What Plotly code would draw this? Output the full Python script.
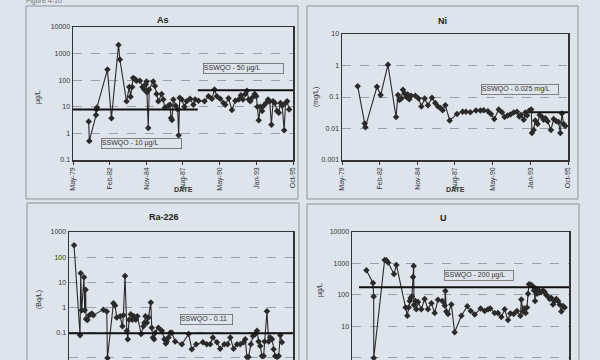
import plotly.graph_objects as go

W, H = 600, 360
BG = "#dde4eb"
INK = "#2a2a2a"

tick_years = [1979.38, 1982.11, 1984.85, 1987.59, 1990.33, 1993.07, 1995.81]
tick_labels = ["May-79", "Feb-82", "Nov-84", "Aug-87", "May-90", "Jan-93", "Oct-95"]

# ---- As (ug/L)
as_year = [1980.55, 1980.6, 1981.1, 1981.13, 1981.17, 1981.95, 1982.25, 1982.78, 1982.88, 1983.38,
           1983.58, 1983.68, 1983.8, 1983.87, 1984.0, 1984.12, 1984.37, 1984.57, 1984.7, 1984.82,
           1984.87, 1984.9, 1985.0, 1985.07, 1985.37, 1985.5, 1985.62, 1985.75, 1986.0, 1986.12,
           1986.25, 1986.5, 1986.62, 1986.7, 1986.77, 1986.87, 1987.05, 1987.2, 1987.27, 1987.35,
           1987.5, 1987.7, 1987.87, 1988.12, 1988.37, 1988.5, 1988.75, 1989.2, 1989.5, 1989.75,
           1989.95, 1990.12, 1990.37, 1990.62, 1990.75, 1991.0, 1991.25, 1991.5, 1991.75, 1991.92,
           1992.07, 1992.25, 1992.37, 1992.5, 1992.62, 1992.8, 1992.95, 1993.07, 1993.15, 1993.25,
           1993.37, 1993.5, 1993.62, 1993.8, 1993.95, 1994.07, 1994.2, 1994.32, 1994.45, 1994.62,
           1994.75, 1994.87, 1995.0, 1995.15, 1995.25, 1995.37, 1995.52]
as_val = [2.8, 0.52, 4.9, 8, 9.5, 250, 3.7, 2100, 600, 16,
          56, 24, 56, 120, 110, 95, 95, 55, 45, 70,
          90, 35, 1.6, 45, 90, 60, 30, 16, 30, 19,
          9.5, 11, 12, 3.8, 3.2, 19, 11, 8, 0.85, 22,
          19, 10, 16, 20, 12, 19, 17, 16, 25, 20,
          45, 25, 20, 14, 12, 21, 7.5, 17, 19, 27,
          19, 30, 40, 19, 16, 23, 30, 25, 10, 3.1,
          10, 7, 11, 14, 19, 16, 2.1, 16, 14, 7,
          6, 14, 11, 1.3, 14, 16, 8]
as_lim1_year = [1979.38, 1988.7]
as_lim1_val = [8, 8]
as_lim2_year = [1988.7, 1995.81]
as_lim2_val = [42, 42]

# ---- Ni (mg/L)
ni_year = [1980.52, 1981.03, 1981.08, 1981.92, 1982.19, 1982.72, 1983.31, 1983.45, 1983.55, 1983.69,
           1983.81, 1983.94, 1984.06, 1984.15, 1984.27, 1984.4, 1984.71, 1984.95, 1985.15, 1985.39,
           1985.63, 1985.92, 1986.16, 1986.36, 1986.53, 1986.7, 1986.89, 1987.21, 1987.74, 1988.15,
           1988.39, 1988.71, 1989.12, 1989.44, 1989.68, 1989.99, 1990.21, 1990.45, 1990.77, 1991.01,
           1991.2, 1991.42, 1991.62, 1991.86, 1992.1, 1992.27, 1992.39, 1992.59, 1992.71, 1992.83,
           1993.0, 1993.14, 1993.19, 1993.31, 1993.43, 1993.6, 1993.75, 1993.92, 1994.04, 1994.16,
           1994.33, 1994.57, 1994.77, 1994.96, 1995.13, 1995.25, 1995.37, 1995.49, 1995.61]
ni_val = [0.22, 0.0144, 0.011, 0.21, 0.115, 1.05, 0.023, 0.115, 0.08, 0.09,
          0.17, 0.13, 0.1, 0.12, 0.085, 0.11, 0.11, 0.09, 0.05, 0.09,
          0.055, 0.095, 0.065, 0.05, 0.045, 0.038, 0.055, 0.018, 0.029, 0.034,
          0.034, 0.033, 0.037, 0.037, 0.038, 0.035, 0.029, 0.02, 0.04, 0.033,
          0.023, 0.026, 0.028, 0.032, 0.034, 0.024, 0.027, 0.019, 0.032, 0.026,
          0.037, 0.04, 0.0072, 0.009, 0.018, 0.014, 0.027, 0.023, 0.019, 0.021,
          0.017, 0.009, 0.02, 0.017, 0.016, 0.0072, 0.03, 0.014, 0.012]
ni_lim_year = [1993.07, 1995.81]
ni_lim_val = [0.033, 0.033]

# ---- Ra-226 (Bq/L)
ra_year = [1979.75, 1980.19, 1980.24, 1980.31, 1980.48, 1980.53, 1980.6, 1980.63, 1980.73, 1980.87,
           1981.05, 1981.17, 1981.9, 1982.15, 1982.2, 1982.64, 1982.76, 1982.88, 1983.13, 1983.3,
           1983.37, 1983.49, 1983.62, 1983.69, 1983.79, 1983.91, 1984.03, 1984.15, 1984.28, 1984.4,
           1984.67, 1984.84, 1984.91, 1984.99, 1985.09, 1985.21, 1985.38, 1985.45, 1985.53, 1985.62,
           1985.7, 1985.94, 1986.19, 1986.38, 1986.48, 1986.55, 1986.68, 1986.8, 1986.92, 1987.17,
           1987.66, 1988.15, 1988.39, 1988.71, 1989.2, 1989.49, 1989.74, 1989.93, 1990.23, 1990.47,
           1990.77, 1991.01, 1991.21, 1991.45, 1991.7, 1991.94, 1992.19, 1992.31, 1992.43, 1992.55,
           1992.72, 1992.87, 1993.04, 1993.17, 1993.29, 1993.41, 1993.53, 1993.66, 1993.73, 1993.9,
           1994.02, 1994.14, 1994.27, 1994.39, 1994.51, 1994.64, 1994.76, 1994.88, 1995.0]
ra_val = [300, 0.08, 23, 0.78, 16, 0.78, 5.1, 0.35, 0.32, 0.5,
          0.58, 0.5, 0.83, 0.7, 0.01, 1.5, 1.2, 0.4, 0.45, 0.18,
          0.5, 18, 0.12, 0.055, 0.33, 0.55, 0.33, 0.45, 0.33, 0.45,
          0.09, 0.18, 0.25, 0.45, 0.25, 0.4, 1.6, 0.16, 0.065, 0.055,
          0.1, 0.16, 0.12, 0.055, 0.038, 0.045, 0.065, 0.1, 0.1, 0.045,
          0.035, 0.09, 0.022, 0.035, 0.042, 0.035, 0.035, 0.065, 0.042, 0.023,
          0.035, 0.035, 0.065, 0.023, 0.035, 0.035, 0.042, 0.055, 0.011, 0.011,
          0.035, 0.075, 0.09, 0.12, 0.045, 0.03, 0.012, 0.012, 0.045, 0.72,
          0.045, 0.065, 0.055, 0.022, 0.012, 0.011, 0.012, 0.08, 0.042]
ra_lim_year = [1979.38, 1995.81]
ra_lim_val = [0.095, 0.095]

# ---- U (ug/L)
u_year = [1980.47, 1980.97, 1981.02, 1981.03, 1981.85, 1981.98, 1982.11, 1982.56, 1982.74, 1983.44,
          1983.57, 1983.67, 1983.75, 1983.82, 1983.92, 1984.0, 1984.05, 1984.07, 1984.18, 1984.25,
          1984.38, 1984.63, 1984.88, 1985.13, 1985.39, 1985.64, 1985.89, 1986.22, 1986.4, 1986.45,
          1986.52, 1986.65, 1986.9, 1987.15, 1987.66, 1988.11, 1988.37, 1988.67, 1989.12, 1989.43,
          1989.68, 1989.85, 1990.18, 1990.43, 1990.69, 1990.94, 1991.19, 1991.37, 1991.62, 1991.87,
          1992.13, 1992.2, 1992.33, 1992.4, 1992.53, 1992.63, 1992.71, 1992.78, 1992.91, 1993.03,
          1993.16, 1993.24, 1993.29, 1993.39, 1993.49, 1993.59, 1993.72, 1993.84, 1993.97, 1994.09,
          1994.22, 1994.35, 1994.47, 1994.6, 1994.73, 1994.85, 1994.98, 1995.1, 1995.23, 1995.36,
          1995.48]
u_val = [610, 240, 90, 1, 1300, 1270, 1080, 460, 900, 40,
         22, 40, 65, 80, 90, 370, 840, 48, 65, 35,
         60, 35, 75, 35, 55, 27, 70, 65, 46, 135,
         30, 25, 50, 6.6, 22, 44, 31, 24, 37, 31,
         35, 37, 27, 27, 20, 35, 16, 26, 25, 31,
         22, 72, 30, 37, 27, 40, 110, 220, 210, 195,
         140, 65, 160, 110, 145, 120, 125, 140, 125, 100,
         90, 75, 80, 50, 65, 75, 65, 50, 30, 45,
         40]
u_lim_year = [1979.91, 1995.81]
u_lim_val = [175, 175]

# ---- panel layout (pixels)
def px(x):
    return x / W

def py(y):
    return 1 - y / H

panels = [
    dict(name="As", title="As", ylab="µg/L", xd=(73, 293), yd=(27, 160), rng=(-1, 4),
         ticks=[0.1, 1, 10, 100, 1000, 10000], tt=["0.1", "1", "10", "100", "1000", "10000"],
         box=(26, 298, 6, 199), tpos=(163, 20), ylpos=(38, 97), date=True,
         series=(as_year, as_val), lims=[(as_lim1_year, as_lim1_val), (as_lim2_year, as_lim2_val)],
         labels=[("SSWQO - 50 µg/L", 243, 68.5, 79), ("SSWQO - 10 µg/L", 141, 143.5, 79)]),
    dict(name="Ni", title="Ni", ylab="(mg/L)", xd=(342, 568), yd=(34, 160), rng=(-3, 1),
         ticks=[0.001, 0.01, 0.1, 1, 10], tt=["0.001", "0.01", "0.1", "1", "10"],
         box=(307, 578, 6, 199), tpos=(442, 21), ylpos=(316, 97), date=True,
         series=(ni_year, ni_val), lims=[(ni_lim_year, ni_lim_val)],
         labels=[("SSWQO - 0.025 mg/L", 520, 89, 76)]),
    dict(name="Ra", title="Ra-226", ylab="(Bq/L)", xd=(69, 293), yd=(232, 360), rng=(-2.08, 3),
         ticks=[0.01, 0.1, 1, 10, 100, 1000], tt=["0.01", "0.1", "1", "10", "100", "1000"],
         box=(27, 299, 203, 375), tpos=(164, 217), ylpos=(39, 300), date=False,
         series=(ra_year, ra_val), lims=[(ra_lim_year, ra_lim_val)],
         labels=[("SSWQO - 0.11", 207, 319, 51)]),
    dict(name="U", title="U", ylab="µg/L", xd=(352, 569), yd=(232, 360), rng=(-0.064, 4),
         ticks=[1, 10, 100, 1000, 10000], tt=["1", "10", "100", "1000", "10000"],
         box=(307, 579, 204, 375), tpos=(443, 218), ylpos=(320, 290), date=False,
         series=(u_year, u_val), lims=[(u_lim_year, u_lim_val)],
         labels=[("SSWQO - 200 µg/L", 479, 275.5, 68)]),
]

fig = go.Figure()
shapes = []
annotations = []

def note(text, x, y, size=7, color="#333", **kw):
    d = dict(text=text, xref="paper", yref="paper", x=px(x), y=py(y),
             xanchor="center", yanchor="middle", showarrow=False,
             font=dict(size=size, color=color))
    d.update(kw)
    annotations.append(d)

for i, p in enumerate(panels, start=1):
    xa = "x" if i == 1 else f"x{i}"
    ya = "y" if i == 1 else f"y{i}"
    xs, ys = p["series"]
    fig.add_trace(go.Scatter(
        x=xs, y=ys, xaxis=xa, yaxis=ya, mode="lines+markers",
        line=dict(color=INK, width=1.1),
        marker=dict(symbol="diamond", size=5, color=INK),
        showlegend=False, cliponaxis=True, hoverinfo="skip"))
    for lx, lv in p["lims"]:
        fig.add_trace(go.Scatter(
            x=lx, y=lv, xaxis=xa, yaxis=ya, mode="lines",
            line=dict(color="#111", width=2), showlegend=False, hoverinfo="skip"))

    xkey = "xaxis" if i == 1 else f"xaxis{i}"
    ykey = "yaxis" if i == 1 else f"yaxis{i}"
    fig.update_layout(**{
        xkey: dict(domain=[px(p["xd"][0]), px(p["xd"][1])], anchor=ya,
                   range=[tick_years[0], tick_years[-1]],
                   tickvals=tick_years, ticktext=tick_labels, tickangle=-90,
                   tickfont=dict(size=7, color="#333"),
                   showticklabels=p["date"],
                   ticks="outside" if p["date"] else "", ticklen=3, tickcolor="#333",
                   showgrid=False, zeroline=False, automargin=False,
                   showline=True, mirror=True, linecolor="#333", linewidth=1.5),
        ykey: dict(domain=[py(p["yd"][1]), py(p["yd"][0])], anchor=xa,
                   type="log", range=list(p["rng"]),
                   tickvals=p["ticks"], ticktext=p["tt"],
                   tickfont=dict(size=7, color="#333"),
                   ticks="", showgrid=True, gridcolor="#8a8f96", gridwidth=0.8,
                   griddash="dash", zeroline=False, automargin=False,
                   showline=True, mirror=True, linecolor="#333", linewidth=1.5),
    })

    bx0, bx1, by0, by1 = p["box"]
    shapes.append(dict(type="rect", xref="paper", yref="paper",
                       x0=px(bx0), x1=px(bx1), y0=py(by1), y1=py(by0),
                       line=dict(color="#8d939a", width=1), layer="below"))
    note(f"<b>{p['title']}</b>", p["tpos"][0], p["tpos"][1], size=9, color="#222")
    note(p["ylab"], p["ylpos"][0], p["ylpos"][1], textangle=-90)
    if p["date"]:
        note("<b>DATE</b>", (p["xd"][0] + p["xd"][1]) / 2, 189)
    for txt, lx, ly, lw in p["labels"]:
        note(txt, lx, ly, width=lw, height=9, align="left",
             bordercolor="#666", borderwidth=0.8, borderpad=0, bgcolor=BG)

annotations.append(dict(text="Figure 4-10", xref="paper", yref="paper", x=px(24), y=py(1),
                        xanchor="left", yanchor="middle", showarrow=False,
                        font=dict(size=7, color="#777")))

fig.update_layout(width=W, height=H, margin=dict(l=0, r=0, t=0, b=0, autoexpand=False),
                  paper_bgcolor=BG, plot_bgcolor=BG, hovermode=False,
                  font=dict(family="Liberation Sans, Arial, sans-serif"),
                  shapes=shapes, annotations=annotations)

fig.write_html("out.html", config={"displayModeBar": False, "staticPlot": True},
               post_script="document.body.style.margin='0';"
                           "document.body.style.background='" + BG + "';"
                           "document.body.style.overflow='hidden';")
